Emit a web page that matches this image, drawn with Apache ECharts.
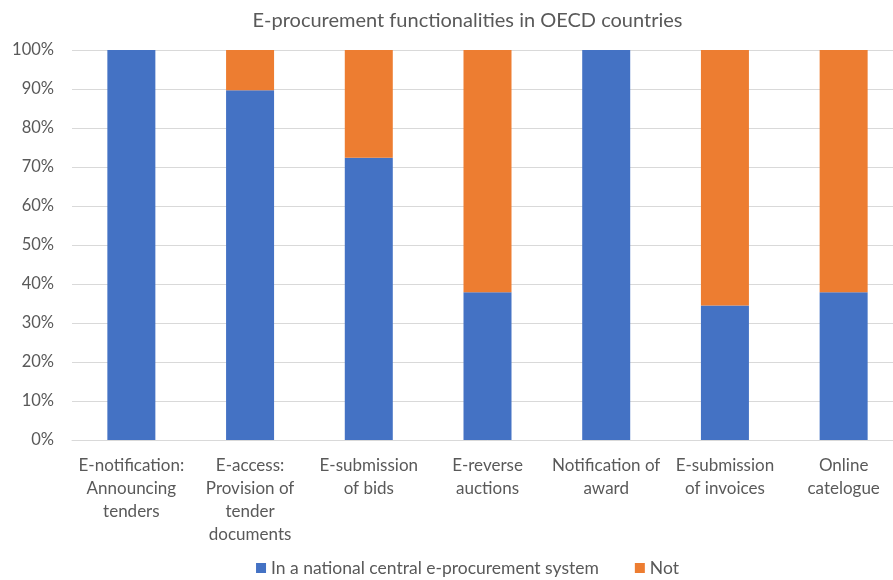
<!DOCTYPE html>
<html><head><meta charset="utf-8">
<script src="https://cdn.jsdelivr.net/npm/echarts@6/dist/echarts.min.js"></script>
<style>html,body{margin:0;padding:0;background:#fff;overflow:hidden}#c{width:935px;height:580px}</style>
</head><body><div id="c"></div>
<script>
var categories = ['E-notification:\nAnnouncing\ntenders', 'E-access:\nProvision of\ntender\ndocuments', 'E-submission\nof bids', 'E-reverse\nauctions', 'Notification of\naward', 'E-submission\nof invoices', 'Online\ncatelogue'];
var inSystem = [100, 89.7, 72.4, 37.9, 100, 34.5, 37.9];
var notInSystem = [0, 10.3, 27.6, 62.1, 0, 65.5, 62.1];
var seriesNames = ['In a national central e-procurement system', 'Not'];
var titleText = 'E-procurement functionalities in OECD countries';

var font = 'Lato';
var chart = echarts.init(document.getElementById('c'));
chart.setOption({
  animation: false,
  title: { text: titleText, left: 'center', top: 6,
    textStyle: { fontFamily: font, fontSize: 20, fontWeight: 'normal', color: '#595959' } },
  legend: { top: 554, left: 'center', itemWidth: 10, itemHeight: 10, itemGap: 36, icon: 'rect',
    textStyle: { fontFamily: font, fontSize: 17.5, color: '#595959' } },
  grid: { left: 72, top: 50, right: 32, height: 390 },
  xAxis: { type: 'category', data: categories,
    axisLine: { lineStyle: { color: '#d9d9d9' } }, axisTick: { show: false },
    axisLabel: { interval: 0, fontFamily: font, fontSize: 17, color: '#595959', lineHeight: 23, margin: 14 } },
  yAxis: { type: 'value', min: 0, max: 100, interval: 10,
    axisLabel: { formatter: '{value}%', fontFamily: font, fontSize: 16.5, color: '#595959', margin: 18 },
    splitLine: { lineStyle: { color: '#d9d9d9' } }, axisLine: { show: false }, axisTick: { show: false } },
  series: [
    { name: seriesNames[0], type: 'bar', stack: 'a', data: inSystem, barWidth: 48, itemStyle: { color: '#4472C4' } },
    { name: seriesNames[1], type: 'bar', stack: 'a', data: notInSystem, barWidth: 48, itemStyle: { color: '#ED7D31' } }
  ]
});
</script></body></html>
